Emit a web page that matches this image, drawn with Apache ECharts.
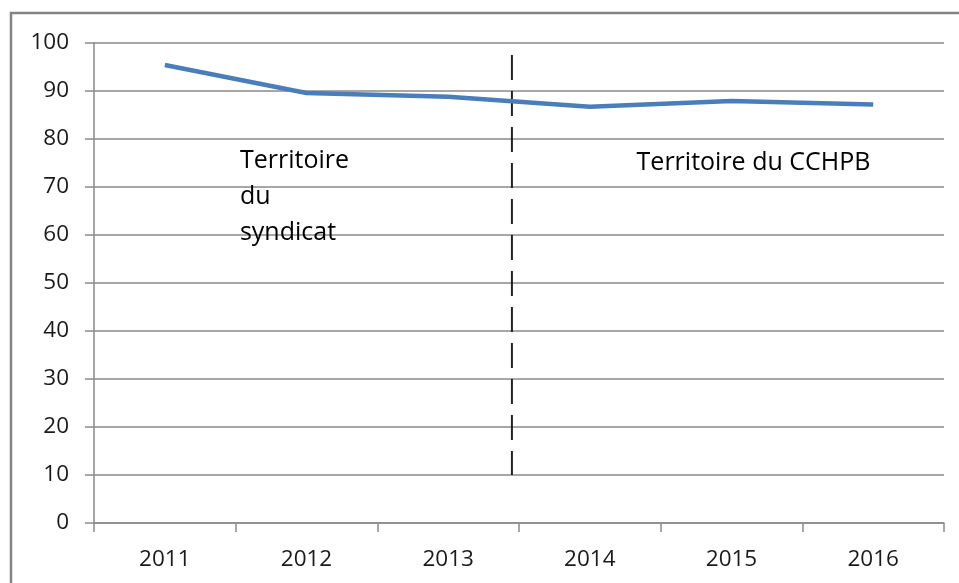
<!DOCTYPE html>
<html>
<head>
<meta charset="utf-8">
<script src="https://cdn.jsdelivr.net/npm/echarts@6/dist/echarts.min.js"></script>
<style>
  html, body { margin: 0; padding: 0; background: #fff; }
  #container { width: 959px; height: 583px; }
</style>
</head>
<body>
<div id="container"></div>
<script>
// années (axe des x)
var years = ['2011', '2012', '2013', '2014', '2015', '2016'];
// valeurs
var values = [95.4, 89.6, 88.8, 86.7, 87.9, 87.2];
// séparation syndicat / CCHPB (en unités de catégorie) et étendue verticale
var dividerX = 2.95;
var dividerRange = [97.5, 10];
// textes d'annotation et leur ancrage (unités catégorie, valeur)
var noteTexts = ['Territoire\ndu\nsyndicat', 'Territoire du CCHPB'];
var noteAnchors = [[1.03, 79.2], [3.83, 78.7]];

var dom = document.getElementById('container');
var myChart = echarts.init(dom);

var gridLine = '#8a8a8a';
var labelFont = { color: '#1a1a1a', fontSize: 22.5, fontFamily: 'Open Sans' };

myChart.setOption({
    backgroundColor: '#fff',
    animation: false,
    grid: { left: 94, right: 15, top: 43, bottom: 60 },
    xAxis: [
        {
            type: 'category',
            data: years,
            boundaryGap: true,
            axisLine: { lineStyle: { color: gridLine, width: 1.5 } },
            axisTick: { show: true, length: 9, lineStyle: { color: gridLine, width: 1.5 } },
            axisLabel: Object.assign({ margin: 25 }, labelFont),
            splitLine: { show: false }
        },
        {
            // axe caché pour placer la ligne de séparation entre deux années
            type: 'value',
            min: 0,
            max: years.length,
            show: false
        }
    ],
    yAxis: {
        type: 'value',
        min: 0,
        max: 100,
        interval: 10,
        axisLine: { show: true, lineStyle: { color: gridLine, width: 1.5 } },
        axisTick: { show: true, length: 9, lineStyle: { color: gridLine, width: 1.5 } },
        axisLabel: Object.assign({ margin: 25 }, labelFont),
        splitLine: { show: true, lineStyle: { color: gridLine, width: 1.5 } }
    },
    series: [
        {
            type: 'line',
            xAxisIndex: 1,
            data: dividerRange.map(function (v) { return [dividerX, v]; }),
            symbol: 'none',
            lineStyle: { color: '#222', width: 2, type: [25, 11] },
            z: 3
        },
        {
            type: 'line',
            data: values,
            symbol: 'none',
            lineStyle: { color: '#4a7ebb', width: 4.5 },
            z: 4
        }
    ]
});

// cadre + textes, positionnés via convertToPixel
var graphics = [
    {
        type: 'rect',
        shape: { x: 11, y: 13, width: 1000, height: 1000 },
        style: { fill: null, stroke: '#858585', lineWidth: 2.5 },
        silent: true,
        z: 0
    }
];
noteTexts.forEach(function (t, i) {
    var p = myChart.convertToPixel({ xAxisIndex: 1, yAxisIndex: 0 }, noteAnchors[i]);
    graphics.push({
        type: 'text',
        x: p[0],
        y: p[1],
        style: {
            text: t,
            fill: '#000',
            fontSize: 25,
            fontFamily: 'Open Sans',
            lineHeight: 36,
            verticalAlign: 'top'
        },
        z: 10
    });
});
myChart.setOption({ graphic: graphics });

window.addEventListener('resize', function () {
    myChart.resize();
});
</script>
</body>
</html>
